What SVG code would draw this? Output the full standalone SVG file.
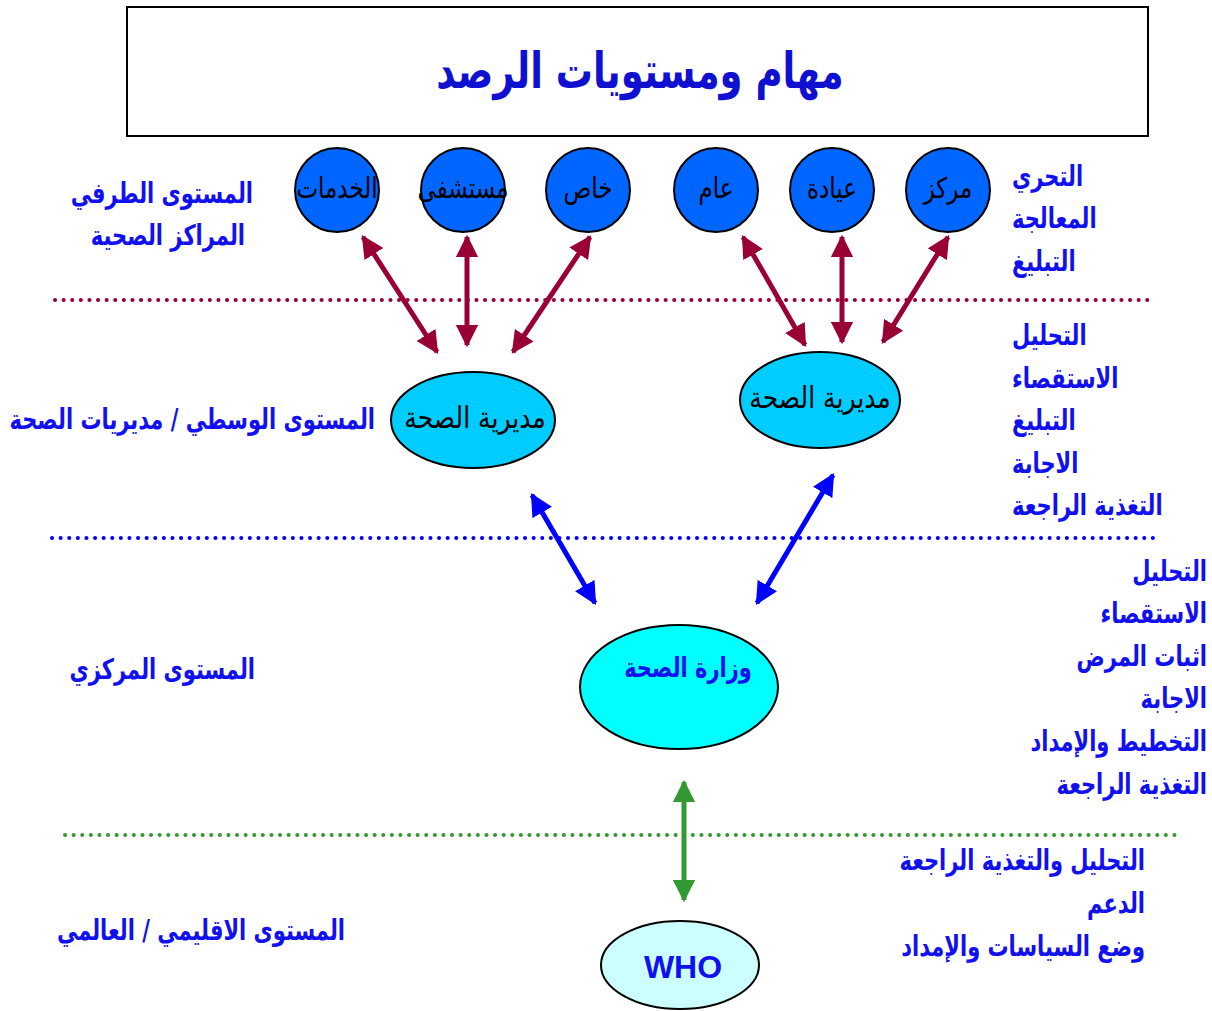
<svg xmlns="http://www.w3.org/2000/svg" width="1212" height="1011" viewBox="0 0 1212 1011">
<defs>
<style>
.lbl{font-family:"DejaVu Sans",sans-serif;font-weight:bold;font-size:21px;fill:#1010F0}
.nt{font-family:"DejaVu Sans",sans-serif;font-size:23px;fill:#000}
.et{font-family:"DejaVu Sans",sans-serif;font-size:25px;fill:#000}
.circ{fill:#0066FF;stroke:#000;stroke-width:2}
.dot{stroke-width:4;stroke-dasharray:0.1 8.5;stroke-linecap:round;fill:none}
.ar{fill:none;stroke-width:5}
</style>
<marker id="mr" viewBox="0 0 10 10" refX="9" refY="5" markerWidth="4.5" markerHeight="4.5" orient="auto-start-reverse" markerUnits="strokeWidth"><path d="M0,0 L10,5 L0,10 z" fill="#990033"/></marker>
<marker id="mb" viewBox="0 0 10 10" refX="9" refY="5" markerWidth="4.5" markerHeight="4.5" orient="auto-start-reverse" markerUnits="strokeWidth"><path d="M0,0 L10,5 L0,10 z" fill="#0000FF"/></marker>
<marker id="mg" viewBox="0 0 10 10" refX="9" refY="5" markerWidth="4.5" markerHeight="4.5" orient="auto-start-reverse" markerUnits="strokeWidth"><path d="M0,0 L10,5 L0,10 z" fill="#339933"/></marker>
</defs>
<rect width="1212" height="1011" fill="#fff"/>
<g id="title">
<rect x="127" y="7" width="1021" height="129" fill="#fff" stroke="#000" stroke-width="2"/>
<text transform="translate(640,88) scale(1,1.35)" text-anchor="middle" font-family="DejaVu Sans,sans-serif" font-weight="bold" font-size="37" fill="#1010D0">مهام ومستويات الرصد</text>
</g>
<g id="separators">
<line class="dot" x1="55" y1="300" x2="1148" y2="300" stroke="#990033"/>
<line class="dot" x1="52" y1="538" x2="1155" y2="538" stroke="#0000FF"/>
<line class="dot" x1="65" y1="835" x2="1178" y2="835" stroke="#339933"/>
</g>
<g id="connectors">
<line class="ar" stroke="#990033" marker-start="url(#mr)" marker-end="url(#mr)" x1="363" y1="237" x2="437" y2="352"/>
<line class="ar" stroke="#990033" marker-start="url(#mr)" marker-end="url(#mr)" x1="467" y1="237" x2="467" y2="345"/>
<line class="ar" stroke="#990033" marker-start="url(#mr)" marker-end="url(#mr)" x1="590" y1="237" x2="513" y2="352"/>
<line class="ar" stroke="#990033" marker-start="url(#mr)" marker-end="url(#mr)" x1="743" y1="237" x2="805" y2="345"/>
<line class="ar" stroke="#990033" marker-start="url(#mr)" marker-end="url(#mr)" x1="842" y1="237" x2="842" y2="342"/>
<line class="ar" stroke="#990033" marker-start="url(#mr)" marker-end="url(#mr)" x1="948" y1="237" x2="883" y2="342"/>
<line class="ar" stroke="#0000FF" marker-start="url(#mb)" marker-end="url(#mb)" x1="532" y1="495" x2="595" y2="603"/>
<line class="ar" stroke="#0000FF" marker-start="url(#mb)" marker-end="url(#mb)" x1="833" y1="475" x2="757" y2="603"/>
<line class="ar" stroke="#339933" marker-start="url(#mg)" marker-end="url(#mg)" x1="684" y1="782" x2="684" y2="900"/>
</g>
<g id="n-khadamat"><circle class="circ" cx="337" cy="190" r="42"/><text class="nt" transform="translate(337,198) scale(1,1.25)" text-anchor="middle">الخدمات</text></g>
<g id="n-mustashfa"><circle class="circ" cx="463" cy="190" r="42"/><text class="nt" transform="translate(463,198) scale(1,1.25)" text-anchor="middle">مستشفى</text></g>
<g id="n-khas"><circle class="circ" cx="588" cy="190" r="42"/><text class="nt" transform="translate(588,198) scale(1,1.25)" text-anchor="middle">خاص</text></g>
<g id="n-am"><circle class="circ" cx="716" cy="190" r="42"/><text class="nt" transform="translate(716,198) scale(1,1.25)" text-anchor="middle">عام</text></g>
<g id="n-iyada"><circle class="circ" cx="832" cy="190" r="42"/><text class="nt" transform="translate(832,198) scale(1,1.25)" text-anchor="middle">عيادة</text></g>
<g id="n-markaz"><circle class="circ" cx="948" cy="190" r="42"/><text class="nt" transform="translate(948,198) scale(1,1.25)" text-anchor="middle">مركز</text></g>
<g id="n-mudiriya1"><ellipse cx="473" cy="420" rx="82" ry="48" fill="#00CCFF" stroke="#000" stroke-width="2"/><text class="et" transform="translate(475,428) scale(1,1.2)" text-anchor="middle">مديرية الصحة</text></g>
<g id="n-mudiriya2"><ellipse cx="820" cy="400" rx="80" ry="48" fill="#00CCFF" stroke="#000" stroke-width="2"/><text class="et" transform="translate(820,408) scale(1,1.2)" text-anchor="middle">مديرية الصحة</text></g>
<g id="n-wizara"><ellipse cx="679" cy="687" rx="99" ry="62" fill="#00FFFF" stroke="#000" stroke-width="2"/><text class="lbl" transform="translate(688,677) scale(1,1.3)" text-anchor="middle">وزارة الصحة</text></g>
<g id="n-who"><ellipse cx="680" cy="965" rx="79" ry="44" fill="#CCFFFF" stroke="#000" stroke-width="2"/><text x="683" y="978" text-anchor="middle" font-family="Liberation Sans,Arial,sans-serif" font-weight="bold" font-size="32" fill="#1010F0">WHO</text></g>
<g id="labels-left">
<text class="lbl" transform="translate(253,203) scale(1,1.35)" text-anchor="end">المستوى الطرفي</text>
<text class="lbl" transform="translate(245,245) scale(1,1.35)" text-anchor="end">المراكز الصحية</text>
<text class="lbl" transform="translate(375,429) scale(1,1.35)" text-anchor="end">المستوى الوسطي / مديريات الصحة</text>
<text class="lbl" transform="translate(255,679) scale(1,1.35)" text-anchor="end">المستوى المركزي</text>
<text class="lbl" transform="translate(345,940) scale(1,1.35)" text-anchor="end">المستوى الاقليمي / العالمي</text>
</g>
<g id="labels-right">
<text class="lbl" transform="translate(1012,186) scale(1,1.35)">التحري</text>
<text class="lbl" transform="translate(1012,228) scale(1,1.35)">المعالجة</text>
<text class="lbl" transform="translate(1012,271) scale(1,1.35)">التبليغ</text>
<text class="lbl" transform="translate(1012,345) scale(1,1.35)">التحليل</text>
<text class="lbl" transform="translate(1012,388) scale(1,1.35)">الاستقصاء</text>
<text class="lbl" transform="translate(1012,430) scale(1,1.35)">التبليغ</text>
<text class="lbl" transform="translate(1012,473) scale(1,1.35)">الاجابة</text>
<text class="lbl" transform="translate(1012,515) scale(1,1.35)">التغذية الراجعة</text>
<text class="lbl" transform="translate(1207,581) scale(1,1.35)" text-anchor="end">التحليل</text>
<text class="lbl" transform="translate(1207,623) scale(1,1.35)" text-anchor="end">الاستقصاء</text>
<text class="lbl" transform="translate(1207,666) scale(1,1.35)" text-anchor="end">اثبات المرض</text>
<text class="lbl" transform="translate(1207,708) scale(1,1.35)" text-anchor="end">الاجابة</text>
<text class="lbl" transform="translate(1207,751) scale(1,1.35)" text-anchor="end">التخطيط والإمداد</text>
<text class="lbl" transform="translate(1207,794) scale(1,1.35)" text-anchor="end">التغذية الراجعة</text>
<text class="lbl" transform="translate(1145,870) scale(1,1.35)" text-anchor="end">التحليل والتغذية الراجعة</text>
<text class="lbl" transform="translate(1145,913) scale(1,1.35)" text-anchor="end">الدعم</text>
<text class="lbl" transform="translate(1145,956) scale(1,1.35)" text-anchor="end">وضع السياسات والإمداد</text>
</g>
</svg>
